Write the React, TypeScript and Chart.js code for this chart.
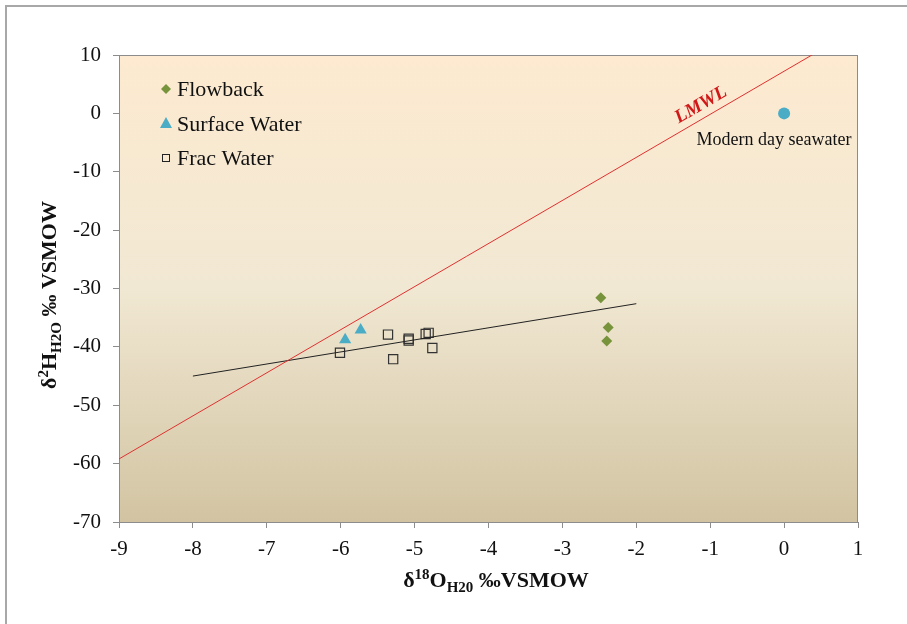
import React, { useEffect, useRef } from "react";
import { Chart, registerables } from "chart.js";

Chart.register(...registerables);

const flowbackX = [-2.48, -2.38, -2.4];
const flowbackY = [-31.6, -36.7, -39.0];
const surfaceX = [-5.94, -5.73];
const surfaceY = [-38.8, -37.1];
const fracX = [-6.01, -5.36, -5.29, -5.08, -5.08, -4.85, -4.81, -4.76];
const fracY = [-41.0, -37.9, -42.1, -38.6, -38.9, -37.8, -37.6, -40.2];
const trendX = [-8, -2];
const trendY = [-45.0, -32.6];
const lmwlX = [-9, 1];
const lmwlY = [-59.2, 14.6];
const seawaterX = [0];
const seawaterY = [0];
const xTicks = [-9, -8, -7, -6, -5, -4, -3, -2, -1, 0, 1];
const yTicks = [10, 0, -10, -20, -30, -40, -50, -60, -70];

const SERIF = '"Liberation Serif", "Times New Roman", serif';
const GREEN = "#77933C";
const BLUE = "#4BACC6";

const pts = (xs: number[], ys: number[]) => xs.map((x, i) => ({ x, y: ys[i] }));

function drawRich(ctx: CanvasRenderingContext2D, parts: { t: string; s: number; dy: number }[], cx: number, cy: number) {
  let total = 0;
  for (const p of parts) {
    ctx.font = `bold ${p.s}px ${SERIF}`;
    total += ctx.measureText(p.t).width;
  }
  let x = cx - total / 2;
  ctx.textBaseline = "alphabetic";
  ctx.textAlign = "left";
  for (const p of parts) {
    ctx.font = `bold ${p.s}px ${SERIF}`;
    ctx.fillText(p.t, x, cy + p.dy);
    x += ctx.measureText(p.t).width;
  }
}

const decorPlugin = {
  id: "decor",
  beforeDatasetsDraw(chart: any) {
    const { ctx, chartArea: a } = chart;
    ctx.save();
    const g = ctx.createLinearGradient(0, a.top, 0, a.bottom);
    g.addColorStop(0, "#FDEAD0");
    g.addColorStop(0.5, "#F1E8D3");
    g.addColorStop(1, "#D2C4A2");
    ctx.fillStyle = g;
    ctx.fillRect(a.left, a.top, a.right - a.left, a.bottom - a.top);
    ctx.strokeStyle = "#8c8c8c";
    ctx.lineWidth = 1;
    ctx.strokeRect(a.left + 0.5, a.top + 0.5, a.right - a.left - 1, a.bottom - a.top);
    ctx.restore();
  },
  afterDraw(chart: any) {
    const { ctx } = chart;
    const xs = chart.scales.x;
    const ys = chart.scales.y;
    ctx.save();
    // outer frame
    ctx.strokeStyle = "#a8a8a8";
    ctx.lineWidth = 2;
    ctx.beginPath();
    ctx.moveTo(6, 630);
    ctx.lineTo(6, 6);
    ctx.lineTo(912, 6);
    ctx.stroke();

    // legend
    const lx = 166;
    const items = [
      { label: "Flowback", y: 89, kind: "diamond" },
      { label: "Surface Water", y: 124, kind: "triangle" },
      { label: "Frac Water", y: 158, kind: "square" },
    ];
    for (const it of items) {
      if (it.kind === "diamond") {
        ctx.fillStyle = GREEN;
        ctx.beginPath();
        ctx.moveTo(lx, it.y - 5);
        ctx.lineTo(lx + 5, it.y);
        ctx.lineTo(lx, it.y + 5);
        ctx.lineTo(lx - 5, it.y);
        ctx.closePath();
        ctx.fill();
      } else if (it.kind === "triangle") {
        ctx.fillStyle = BLUE;
        ctx.beginPath();
        ctx.moveTo(lx, it.y - 7);
        ctx.lineTo(lx + 6, it.y + 4);
        ctx.lineTo(lx - 6, it.y + 4);
        ctx.closePath();
        ctx.fill();
      } else {
        ctx.strokeStyle = "#222";
        ctx.lineWidth = 1;
        ctx.strokeRect(lx - 3.5, it.y - 3.5, 7, 7);
      }
      ctx.fillStyle = "#111";
      ctx.font = `22px ${SERIF}`;
      ctx.textAlign = "left";
      ctx.textBaseline = "middle";
      ctx.fillText(it.label, lx + 11, it.y + 1);
    }

    // LMWL label
    const p1x = xs.getPixelForValue(-9), p1y = ys.getPixelForValue(-59.2);
    const p2x = xs.getPixelForValue(1), p2y = ys.getPixelForValue(14.6);
    const ang = Math.atan2(p2y - p1y, p2x - p1x);
    ctx.save();
    ctx.translate(701, 105);
    ctx.rotate(ang);
    ctx.fillStyle = "#D01818";
    ctx.font = `bold italic 19px ${SERIF}`;
    ctx.textAlign = "center";
    ctx.textBaseline = "middle";
    ctx.fillText("LMWL", 0, 0);
    ctx.restore();

    // seawater label
    ctx.fillStyle = "#111";
    ctx.font = `18px ${SERIF}`;
    ctx.textAlign = "center";
    ctx.textBaseline = "middle";
    ctx.fillText("Modern day seawater", 774, 140);

    // x title
    ctx.fillStyle = "#111";
    drawRich(
      ctx,
      [
        { t: "δ", s: 22, dy: 0 },
        { t: "18", s: 15, dy: -8 },
        { t: "O", s: 22, dy: 0 },
        { t: "H20", s: 15, dy: 5 },
        { t: " ‰VSMOW", s: 22, dy: 0 },
      ],
      496,
      587
    );
    // y title
    ctx.save();
    ctx.translate(56, 295);
    ctx.rotate(-Math.PI / 2);
    drawRich(
      ctx,
      [
        { t: "δ", s: 22, dy: 0 },
        { t: "2", s: 15, dy: -8 },
        { t: "H", s: 22, dy: 0 },
        { t: "H2O", s: 15, dy: 5 },
        { t: " ‰ VSMOW", s: 22, dy: 0 },
      ],
      0,
      0
    );
    ctx.restore();
    ctx.restore();
  },
};

export default function App() {
  const ref = useRef<HTMLCanvasElement | null>(null);
  useEffect(() => {
    if (!ref.current) return;
    const chart = new Chart(ref.current, {
      type: "scatter",
      data: {
        datasets: [
          {
            label: "LMWL",
            data: pts(lmwlX, lmwlY),
            showLine: true,
            borderColor: "#E03030",
            borderWidth: 1,
            pointRadius: 0,
            fill: false,
          },
          {
            label: "Trend",
            data: pts(trendX, trendY),
            showLine: true,
            borderColor: "#222",
            borderWidth: 1,
            pointRadius: 0,
            fill: false,
          },
          {
            label: "Flowback",
            data: pts(flowbackX, flowbackY),
            pointStyle: "rectRot",
            pointRadius: 5.5,
            backgroundColor: GREEN,
            borderColor: GREEN,
            borderWidth: 0,
          },
          {
            label: "Surface Water",
            data: pts(surfaceX, surfaceY),
            pointStyle: "triangle",
            pointRadius: 7,
            backgroundColor: BLUE,
            borderColor: BLUE,
            borderWidth: 0,
          },
          {
            label: "Frac Water",
            data: pts(fracX, fracY),
            pointStyle: "rect",
            pointRadius: 6.5,
            backgroundColor: "rgba(0,0,0,0)",
            borderColor: "#333",
            borderWidth: 1.2,
          },
          {
            label: "Modern day seawater",
            data: pts(seawaterX, seawaterY),
            pointStyle: "circle",
            pointRadius: 6,
            backgroundColor: BLUE,
            borderColor: BLUE,
            borderWidth: 0,
          },
        ],
      },
      options: {
        animation: false,
        responsive: false,
        maintainAspectRatio: false,
        layout: { padding: { left: 0, top: 55, right: 49, bottom: 0 } },
        plugins: { legend: { display: false }, tooltip: { enabled: false } },
        scales: {
          x: {
            type: "linear",
            min: -9,
            max: 1,
            afterBuildTicks: (s: any) => {
              s.ticks = xTicks.map((v) => ({ value: v }));
            },
            afterFit: (s: any) => {
              s.height = 102;
            },
            grid: { display: true, drawOnChartArea: false, drawTicks: true, tickLength: 6, color: "#8c8c8c" },
            border: { display: true, color: "#8c8c8c" },
            ticks: { color: "#111", font: { family: SERIF, size: 21 }, padding: 9, maxRotation: 0 },
          },
          y: {
            type: "linear",
            min: -70,
            max: 10,
            afterBuildTicks: (s: any) => {
              s.ticks = yTicks.map((v) => ({ value: v }));
            },
            afterFit: (s: any) => {
              s.width = 119;
            },
            grid: { display: true, drawOnChartArea: false, drawTicks: true, tickLength: 6, color: "#8c8c8c" },
            border: { display: true, color: "#8c8c8c" },
            ticks: { color: "#111", font: { family: SERIF, size: 21 }, padding: 12 },
          },
        },
      },
      plugins: [decorPlugin],
    } as any);
    return () => chart.destroy();
  }, []);
  return (
    <div style={{ position: "fixed", left: 0, top: 0, width: 907, height: 624, background: "#fff" }}>
      <canvas ref={ref} width={907} height={624} style={{ width: 907, height: 624, display: "block" }} />
    </div>
  );
}
